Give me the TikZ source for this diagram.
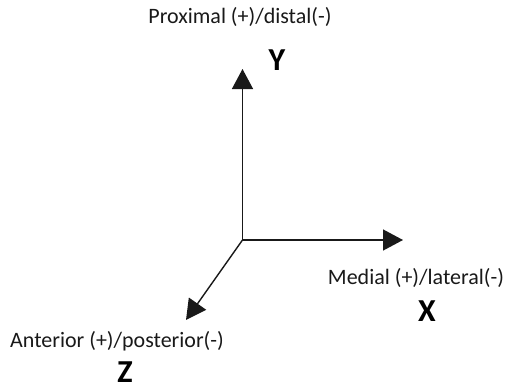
\documentclass[tikz,border=0pt]{standalone}
\usepackage{fontspec}
\setmainfont{Carlito}
\usetikzlibrary{arrows.meta}
\begin{document}
\begin{tikzpicture}[x=1pt,y=-1pt,
  axis/.style={line width=1.4pt, draw=black!90,
    -{Triangle[length=20pt,width=21pt]}},
  caption/.style={font=\fontsize{22}{26}\selectfont, text=black!90, inner sep=0pt},
  letter/.style={font=\fontsize{32}{36}\bfseries\selectfont, inner sep=0pt}]
  \useasboundingbox (0,0) rectangle (512,389);
  % axes from the common origin
  \coordinate (O) at (242.5,240);
  \coordinate (ytip) at (242.5,69);
  \coordinate (xtip) at (403,240);
  \coordinate (ztip) at (186,320);
  \draw[axis] (O) -- (ytip);
  \draw[axis] (O) -- (xtip);
  \draw[axis] (O) -- (ztip);
  % axis labels
  \node[caption] (ycap) at (240,17) {Proximal (+)/distal(-)};
  \node[letter] (ylet) at (277,60) {Y};
  \node[caption] (xcap) at (416,278) {Medial (+)/lateral(-)};
  \node[letter] (xlet) at (427,311) {X};
  \node[caption] (zcap) at (117,341) {Anterior (+)/posterior(-)};
  \node[letter] (zlet) at (125,372) {Z};
\end{tikzpicture}
\end{document}
